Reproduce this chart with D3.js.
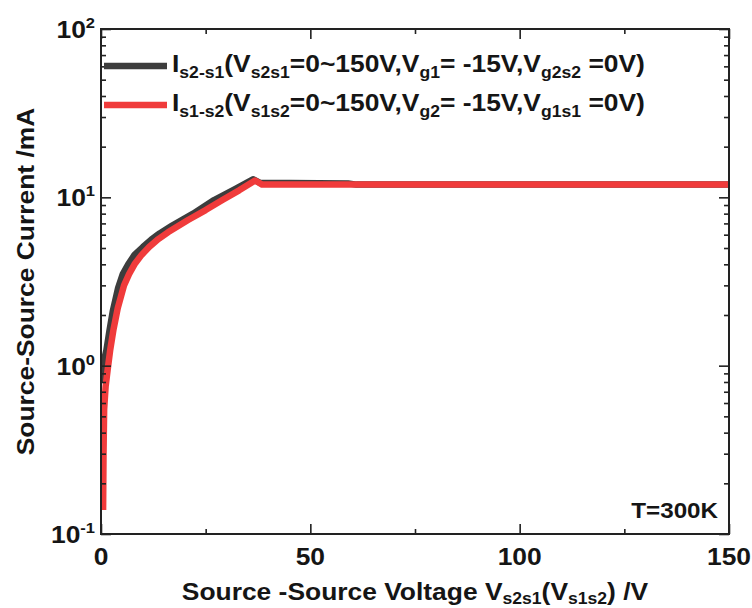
<!DOCTYPE html>
<html>
<head>
<meta charset="utf-8">
<script src="https://cdn.jsdelivr.net/npm/d3@7"></script>
<style>
  html, body { margin: 0; padding: 0; background: #fff; }
  svg { display: block; }
  text { font-family: "Liberation Sans", Arial, sans-serif; font-weight: bold; fill: #151515; }
</style>
</head>
<body>
<svg id="chart" width="752" height="608"></svg>
<script>
// Source-source voltage (V) and current (mA) for the two conduction directions
const voltageS2S1 = [0.3, 0.45, 0.8, 1.3, 2.0, 2.8, 4.1, 5.2, 6.5, 8, 10, 12, 14, 17, 22, 27, 32, 36.3, 38, 59, 61, 100, 150];
const currentS2S1 = [0.79, 1.0, 1.1, 1.24, 1.6, 2.1, 2.9, 3.5, 4.0, 4.55, 5.07, 5.6, 6.1, 6.8, 8.0, 9.64, 11.2, 12.8, 12.2, 12.1, 11.9, 11.9, 11.9];

const voltageS1S2 = [0.5, 0.6, 0.75, 1.1, 1.6, 2.2, 3.0, 4.0, 5.5, 6.7, 8, 9.7, 11.5, 13.7, 16, 20.8, 25, 29, 33, 36.8, 38.5, 100, 150];
const currentS1S2 = [0.139, 0.3, 0.55, 0.75, 0.95, 1.24, 1.65, 2.2, 3.0, 3.5, 4.0, 4.55, 5.07, 5.65, 6.2, 7.33, 8.4, 9.64, 11.0, 12.6, 11.9, 11.9, 11.9];

const xMajorTicks = [0, 50, 100, 150];
const xMinorTicks = [25, 75, 125];
const yMajorTicks = [0.1, 1, 10, 100];
const yTickExponents = ["-1", "0", "1", "2"];

const seriesColors = ["#3d3d3d", "#f03b3b"];

const W = 752, H = 608;
const margin = { top: 29, right: 23, bottom: 74, left: 101 };
const iw = W - margin.left - margin.right;
const ih = H - margin.top - margin.bottom;
const SX = 1.10; // horizontal stretch of the lettering

const svg = d3.select("#chart");
const g = svg.append("g").attr("transform", `translate(${margin.left},${margin.top})`);

const x = d3.scaleLinear().domain([0, 150]).range([0, iw]);
const y = d3.scaleLog().domain([0.1, 100]).range([ih, 0]);

// minor ticks on the log axis: 2..9 within each decade
const yMinorTicks = [];
for (let d = 0.1; d < 100; d *= 10) for (let k = 2; k <= 9; k++) yMinorTicks.push(+(d * k).toPrecision(3));

svg.append("defs").append("clipPath").attr("id", "plotClip")
  .append("rect").attr("x", 0).attr("y", -4).attr("width", iw).attr("height", ih + 4);

// curves
const line = d3.line().x(d => x(d[0])).y(d => y(d[1]));
const seriesData = [
  d3.zip(voltageS2S1, currentS2S1),
  d3.zip(voltageS1S2, currentS1S2)
];
g.append("g").attr("clip-path", "url(#plotClip)")
  .selectAll("path").data(seriesData).join("path")
  .attr("d", line)
  .attr("fill", "none")
  .attr("stroke", (d, i) => seriesColors[i])
  .attr("stroke-width", 6.5)
  .attr("stroke-linejoin", "round");

// axes with inward ticks on all four sides
function styleAxis(sel) {
  sel.select(".domain").remove();
  sel.selectAll(".tick line").attr("stroke", "#222").attr("stroke-width", 1.6);
  sel.selectAll(".tick text").remove();
}
const axes = [
  [d3.axisBottom(x), `translate(0,${ih})`, xMajorTicks, xMinorTicks],
  [d3.axisTop(x), `translate(0,0)`, xMajorTicks, xMinorTicks],
  [d3.axisLeft(y), `translate(0,0)`, yMajorTicks, yMinorTicks],
  [d3.axisRight(y), `translate(${iw},0)`, yMajorTicks, yMinorTicks]
];
axes.forEach(([ax, tr, major, minor]) => {
  g.append("g").attr("transform", tr)
    .call(ax.tickValues(major).tickSize(-10).tickFormat(""))
    .call(styleAxis);
  g.append("g").attr("transform", tr)
    .call(ax.tickValues(minor).tickSize(-5).tickFormat(""))
    .call(styleAxis);
});

// frame
g.append("rect").attr("x", 0).attr("y", 0).attr("width", iw).attr("height", ih)
  .attr("fill", "none").attr("stroke", "#222").attr("stroke-width", 2);

// rich text helper: parts are [string, "n" | "sub" | "sup"]
function richText(parent, px, py, parts, size, anchor, subSize, subShift) {
  const t = parent.append("text")
    .attr("transform", `translate(${px},${py}) scale(${SX},1)`)
    .attr("text-anchor", anchor)
    .style("font-size", size + "px");
  let shift = 0;
  parts.forEach(([s, kind]) => {
    let target = 0;
    let fs = size;
    if (kind === "sub") { target = subShift != null ? subShift : size * 0.27; fs = subSize || size * 0.68; }
    if (kind === "sup") { target = -size * 0.42; fs = subSize || size * 0.6; }
    t.append("tspan").attr("dy", target - shift).style("font-size", fs + "px").text(s);
    shift = target;
  });
  return t;
}

// x tick labels
xMajorTicks.forEach(v => richText(g, x(v), ih + 31, [[String(v), "n"]], 24, "middle"));

// y tick labels (powers of ten)
yMajorTicks.forEach((v, i) => {
  richText(g, -6, y(v) + 9, [["10", "n"], [yTickExponents[i], "sup"]], 24, "end", 15);
});

// axis titles
richText(svg, margin.left + iw / 2, 600,
  [["Source -Source Voltage V", "n"], ["s2s1", "sub"], ["(V", "n"], ["s1s2", "sub"], [") /V", "n"]],
  24, "middle", 16, 4);

svg.append("text")
  .attr("transform", `translate(34,${margin.top + ih / 2}) rotate(-90) scale(${SX},1)`)
  .attr("text-anchor", "middle")
  .style("font-size", "24px")
  .text("Source-Source Current /mA");

// temperature note
richText(g, iw - 11, ih - 16, [["T=300K", "n"]], 22, "end");

// legend
const legendItems = [
  [["I", "n"], ["s2-s1", "sub"], ["(V", "n"], ["s2s1", "sub"], ["=0~150V,V", "n"], ["g1", "sub"],
   ["= -15V,V", "n"], ["g2s2", "sub"], [" =0V)", "n"]],
  [["I", "n"], ["s1-s2", "sub"], ["(V", "n"], ["s1s2", "sub"], ["=0~150V,V", "n"], ["g2", "sub"],
   ["= -15V,V", "n"], ["g1s1", "sub"], [" =0V)", "n"]]
];
const legendG = svg.append("g");
legendItems.forEach((parts, i) => {
  const ly = 66 + i * 39;
  legendG.append("line")
    .attr("x1", 104).attr("x2", 167).attr("y1", ly).attr("y2", ly)
    .attr("stroke", seriesColors[i]).attr("stroke-width", 6.5);
  richText(legendG, 172, ly + 6, parts, 24, "start", 16);
});
</script>
</body>
</html>
